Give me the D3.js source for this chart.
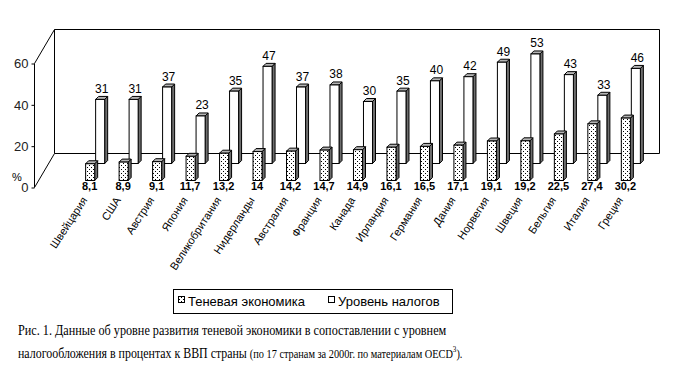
<!DOCTYPE html>
<html lang="ru">
  <head>
    <meta charset="UTF-8" />
    <title>Теневая экономика и уровень налогов</title>
    <style>
      body {
        margin: 0;
        background: #fff;
      }
      svg {
        display: block;
      }
      .axis text {
        font-family: Arial, "Liberation Sans", sans-serif;
        font-size: 13px;
        fill: #222;
      }
      .cat {
        font-family: Arial, "Liberation Sans", sans-serif;
        font-size: 11px;
      }
      .lbl-shadow {
        font-family: Arial, "Liberation Sans", sans-serif;
        font-size: 11px;
        font-weight: bold;
      }
      .lbl-tax {
        font-family: Arial, "Liberation Sans", sans-serif;
        font-size: 12px;
      }
      .legend text {
        font-family: Arial, "Liberation Sans", sans-serif;
        font-size: 13px;
      }
      .caption {
        font-family: "Liberation Serif", "Times New Roman", serif;
        font-size: 15px;
      }
    </style>
    <script src="https://cdn.jsdelivr.net/npm/d3@7"></script>
  </head>
  <body>
    <div class="container"></div>
    <script>
      const countries = [
        "Швейцария", "США", "Австрия", "Япония", "Великобритания", "Нидерланды",
        "Австралия", "Франция", "Канада", "Ирландия", "Германия", "Дания",
        "Норвегия", "Швеция", "Бельгия", "Италия", "Греция"
      ];
      // теневая экономика, % ВВП
      const shadowEconomy = [8.1, 8.9, 9.1, 11.7, 13.2, 14, 14.2, 14.7, 14.9, 16.1, 16.5, 17.1, 19.1, 19.2, 22.5, 27.4, 30.2];
      // уровень налогов, % ВВП
      const taxLevel = [31, 31, 37, 23, 35, 47, 37, 38, 30, 35, 40, 42, 49, 53, 43, 33, 46];
      const yTicks = [0, 20, 40, 60];
      const seriesNames = ["Теневая экономика", "Уровень налогов"];

      const width = 687,
        height = 379;

      // 3d: depth t (0 = front edge of floor, 1 = back wall)
      const depthX = 20,
        depthY = 34;
      const rowDepth = [0.206, 0.706]; // front row, back row
      const barDx = 3,
        barDy = 3;

      const svg = d3
        .select(".container")
        .append("svg")
        .attr("width", width)
        .attr("height", height);

      const defs = svg.append("defs");
      const pat = defs
        .append("pattern")
        .attr("id", "dots")
        .attr("patternUnits", "userSpaceOnUse")
        .attr("width", 4)
        .attr("height", 4);
      pat.append("rect").attr("width", 4).attr("height", 4).attr("fill", "#fff");
      pat.append("rect").attr("x", 1).attr("y", 1).attr("width", 1).attr("height", 1).attr("fill", "#000");
      pat.append("rect").attr("x", 3).attr("y", 3).attr("width", 1).attr("height", 1).attr("fill", "#000");

      const y = d3.scaleLinear().domain([0, 60]).range([187, 63]);
      const x = d3
        .scaleBand()
        .domain(countries)
        .range([34, 639])
        .paddingInner(0.73)
        .paddingOuter(0.9)
        .align(0.78);

      const px = (xv, t) => xv + depthX * t;
      const py = (v, t) => y(v) - depthY * t;

      // walls
      const walls = svg.append("g").attr("fill", "none").attr("stroke", "#000").attr("stroke-width", 1);
      const x0 = x.range()[0],
        x1 = x.range()[1];
      walls
        .append("path")
        .attr(
          "d",
          `M${px(x0, 1)},${py(0, 1)}H${px(x1, 1)}V${py(60, 1)}H${px(x0, 1)}Z` +
            `M${px(x0, 0)},${py(0, 0)}L${px(x0, 1)},${py(0, 1)}` +
            `M${px(x0, 0)},${py(60, 0)}L${px(x0, 1)},${py(60, 1)}`
        )
        .attr("transform", "translate(0.5,0.5)");

      // axis
      const axis = svg
        .append("g")
        .attr("class", "axis")
        .attr("transform", `translate(${x0 + 0.5},0.5)`)
        .call(d3.axisLeft(y).tickValues(yTicks).tickSize(3).tickPadding(3));
      axis.select(".domain").attr("d", `M0,${y(60)}V${y(0)}`);
      svg
        .append("text")
        .attr("class", "axis")
        .attr("x", 12)
        .attr("y", 181)
        .style("font-family", "Arial, sans-serif")
        .style("font-size", "11px")
        .text("%");

      function drawBar(g, xv, t, v, frontFill) {
        const bw = x.bandwidth();
        const xl = px(xv, t) + 0.5,
          xr = xl + bw,
          yb = py(0, t) + 0.5,
          yt = py(v, t) + 0.5;
        g.append("path")
          .attr("d", `M${xr},${yt}L${xr + barDx},${yt - barDy}V${yb - barDy}L${xr},${yb}Z`)
          .attr("fill", "#6e6e6e")
          .attr("stroke", "#000");
        g.append("path")
          .attr("d", `M${xl},${yt}L${xl + barDx},${yt - barDy}H${xr + barDx}L${xr},${yt}Z`)
          .attr("fill", "#b4b4b4")
          .attr("stroke", "#000");
        g.append("rect")
          .attr("x", xl)
          .attr("y", yt)
          .attr("width", bw)
          .attr("height", yb - yt)
          .attr("fill", frontFill)
          .attr("stroke", "#000");
      }

      // back row first (Уровень налогов), then front row (Теневая экономика)
      const back = svg.append("g");
      countries.forEach((c, i) => drawBar(back, x(c), rowDepth[1], taxLevel[i], "#fff"));
      const front = svg.append("g");
      countries.forEach((c, i) => drawBar(front, x(c), rowDepth[0], shadowEconomy[i], "url(#dots)"));

      // value labels
      const fmt = (v) => String(v).replace(".", ",");
      svg
        .append("g")
        .selectAll("text")
        .data(countries)
        .join("text")
        .attr("class", "lbl-tax")
        .attr("text-anchor", "middle")
        .attr("x", (c) => px(x(c), rowDepth[1]) + x.bandwidth() / 2 + 2)
        .attr("y", (c, i) => py(taxLevel[i], rowDepth[1]) - barDy - 3)
        .text((c, i) => fmt(taxLevel[i]));

      svg
        .append("g")
        .selectAll("text")
        .data(countries)
        .join("text")
        .attr("class", "lbl-shadow")
        .attr("text-anchor", "middle")
        .attr("x", (c) => px(x(c), rowDepth[0]) + x.bandwidth() / 2)
        .attr("y", 190)
        .text((c, i) => fmt(shadowEconomy[i]));

      // category labels
      svg
        .append("g")
        .selectAll("text")
        .data(countries)
        .join("text")
        .attr("class", "cat")
        .attr("text-anchor", "end")
        .attr("dy", "0.35em")
        .attr("transform", (c) => `translate(${x(c) + x.bandwidth() / 2 - 1},198) rotate(-57)`)
        .text((c) => c);

      // legend
      const legend = svg.append("g").attr("class", "legend");
      legend
        .append("rect")
        .attr("x", 173.5)
        .attr("y", 289.5)
        .attr("width", 279)
        .attr("height", 24)
        .attr("fill", "#fff")
        .attr("stroke", "#000");
      const legendX = [178, 328];
      seriesNames.forEach((name, i) => {
        legend
          .append("rect")
          .attr("x", legendX[i] + 0.5)
          .attr("y", 296.5)
          .attr("width", 6)
          .attr("height", 6)
          .attr("fill", i === 0 ? "url(#dots)" : "#fff")
          .attr("stroke", "#000");
        legend
          .append("text")
          .attr("x", legendX[i] + 10)
          .attr("y", 306)
          .text(name);
      });

      // caption: the original uses a narrow Times, so each line is squeezed horizontally
      function captionLine(yPos, targetWidth, build) {
        const g = svg.append("g");
        const t = g.append("text").attr("class", "caption");
        build(t);
        const w = t.node().getComputedTextLength();
        g.attr("transform", `translate(18,${yPos}) scale(${targetWidth / w},1)`);
      }
      captionLine(335, 429, (t) =>
        t.text("Рис. 1. Данные об уровне развития теневой экономики в сопоставлении с уровнем")
      );
      captionLine(358, 445, (t) => {
        t.append("tspan").text("налогообложения в процентах к ВВП страны ");
        t.append("tspan").style("font-size", "13px").text("(по 17 странам за 2000г. по материалам OECD");
        t.append("tspan").style("font-size", "9px").attr("dy", -6).text("3");
        t.append("tspan").style("font-size", "13px").attr("dy", 6).text(").");
      });
    </script>
  </body>
</html>
